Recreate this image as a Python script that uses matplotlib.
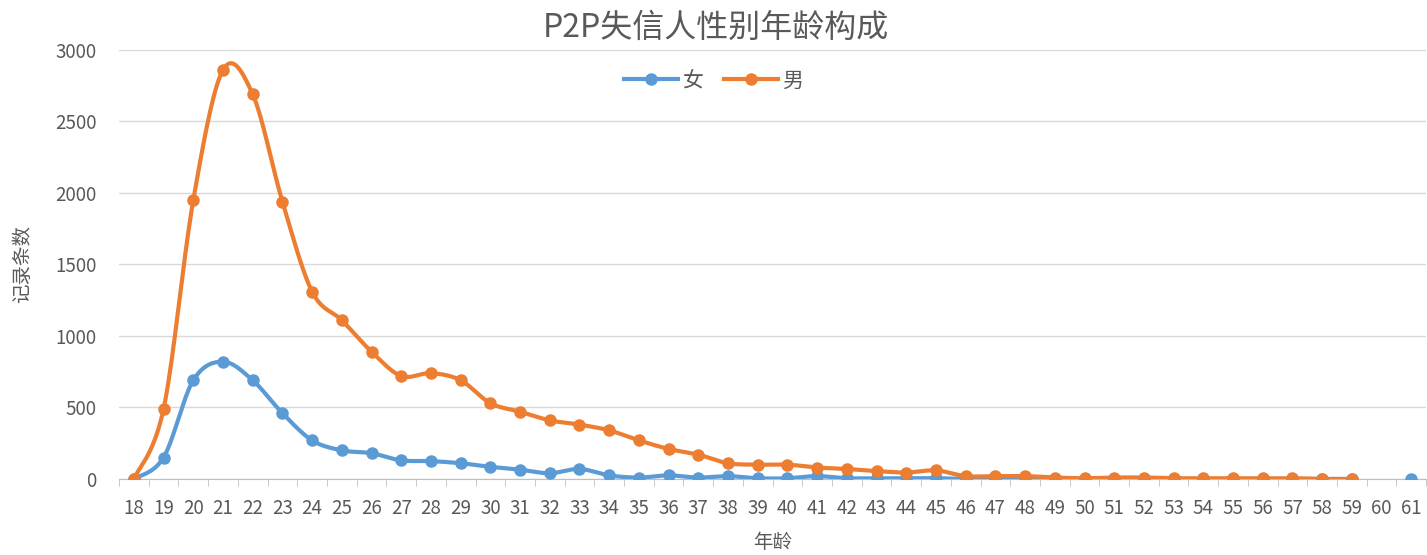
import numpy as np
import matplotlib.pyplot as plt
from matplotlib.lines import Line2D

plt.rcParams['font.family'] = ['Noto Sans CJK SC', 'DejaVu Sans']
plt.rcParams['axes.unicode_minus'] = False

# 年龄 18-61，60岁无记录
ages = list(range(18, 62))
female = [0, 150, 690, 820, 690, 460, 270, 200, 180, 130, 125, 110, 85, 65, 40, 70,
          25, 10, 25, 10, 20, 5, 5, 20, 5, 5, 5, 5, 0, 0, 5, 0, 0, 0, 0, 0, 0, 0, 0,
          0, 0, 0, np.nan, 0]
male = [0, 490, 1950, 2860, 2690, 1940, 1310, 1110, 890, 720, 740, 690, 530, 470, 410,
        380, 340, 270, 210, 170, 110, 100, 100, 80, 70, 55, 45, 60, 20, 20, 20, 10, 5,
        10, 10, 5, 5, 5, 5, 5, 0, 0, np.nan, np.nan]

C_F = '#5B9BD5'
C_M = '#ED7D31'
GREY = '#595959'


def smooth(x, y, n=20):
    # 平滑曲线：Catmull-Rom 贝塞尔插值
    x = np.asarray(x, float)
    y = np.asarray(y, float)
    xs, ys = [], []
    for i in range(len(x) - 1):
        p0 = np.array([x[max(i - 1, 0)], y[max(i - 1, 0)]])
        p1 = np.array([x[i], y[i]])
        p2 = np.array([x[i + 1], y[i + 1]])
        p3 = np.array([x[min(i + 2, len(x) - 1)], y[min(i + 2, len(x) - 1)]])
        c1 = p1 + (p2 - p0) / 6
        c2 = p2 - (p3 - p1) / 6
        t = np.linspace(0, 1, n)[:, None]
        pts = ((1 - t) ** 3) * p1 + 3 * ((1 - t) ** 2) * t * c1 + 3 * (1 - t) * t ** 2 * c2 + t ** 3 * p2
        xs.extend(pts[:, 0])
        ys.extend(pts[:, 1])
    return xs, ys


def draw(ax, vals, color):
    x = np.array(ages, float)
    v = np.array(vals, float)
    ok = ~np.isnan(v)
    # 按缺失值切分成连续段
    idx = np.where(ok)[0]
    segs = np.split(idx, np.where(np.diff(idx) != 1)[0] + 1)
    for s in segs:
        if len(s) > 1:
            sx, sy = smooth(x[s], v[s])
            ax.plot(sx, sy, color=color, lw=3.0, solid_capstyle='round', zorder=3)
    ax.plot(x[ok], v[ok], 'o', color=color, ms=8, zorder=4)


fig = plt.figure(figsize=(14.27, 5.55), dpi=100)
ax = fig.add_axes([0.0834, 0.137, 0.916, 0.773])

draw(ax, female, C_F)
draw(ax, male, C_M)

ax.set_xlim(17.5, 61.5)
ax.set_ylim(0, 3000)
ax.set_yticks(range(0, 3001, 500))
ax.set_xticks(ages)
ax.set_xticklabels([str(a) for a in ages])
ax.set_xticks(np.arange(17.5, 62, 1), minor=True)
ax.tick_params(axis='x', which='major', length=0, pad=14, labelsize=13.5, labelcolor=GREY)
ax.tick_params(axis='x', which='minor', length=5, color='#bfbfbf', direction='out')
ax.tick_params(axis='y', length=0, pad=16, labelsize=13.5, labelcolor=GREY)
ax.grid(axis='y', color='#d9d9d9', lw=1)
ax.set_axisbelow(True)
for s in ['top', 'right', 'left']:
    ax.spines[s].set_visible(False)
ax.spines['bottom'].set_color('#bfbfbf')

ax.set_xlabel('年龄', fontsize=14, color=GREY, labelpad=9)
ax.set_ylabel('记录条数', fontsize=14, color=GREY, labelpad=16)

fig.text(0.502, 0.95, 'P2P失信人性别年龄构成', ha='center', va='center', fontsize=23, color=GREY)

handles = [Line2D([], [], color=C_F, lw=3.0, marker='o', ms=8),
           Line2D([], [], color=C_M, lw=3.0, marker='o', ms=8)]
fig.legend(handles, ['女', '男'], loc='center', bbox_to_anchor=(0.5, 0.855), ncol=2,
           frameon=False, fontsize=15, handlelength=2.6, columnspacing=1.0,
           handletextpad=0.2, labelcolor=GREY)

fig.savefig('out.png', dpi=100)
